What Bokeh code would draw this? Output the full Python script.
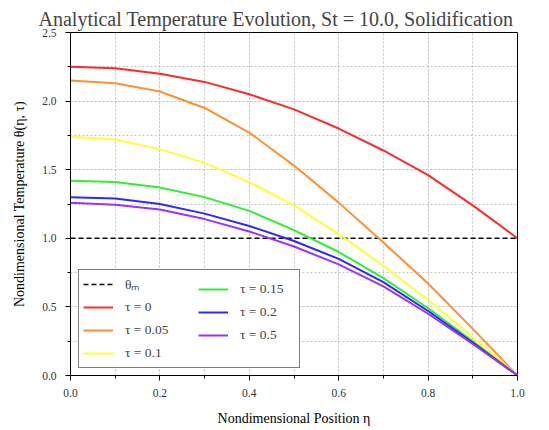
from bokeh.plotting import figure
from bokeh.models import (Legend, LegendItem, Range1d, SingleIntervalTicker,
                          NumeralTickFormatter)
from bokeh.embed import file_html
from bokeh.resources import INLINE

# ---- data ----
eta = [0.0, 0.1, 0.2, 0.3, 0.4, 0.5, 0.6, 0.7, 0.8, 0.9, 1.0]
theta_tau_0    = [2.25, 2.24, 2.20, 2.14, 2.05, 1.94, 1.80, 1.64, 1.46, 1.24, 1.00]
theta_tau_0_05 = [2.15, 2.13, 2.07, 1.95, 1.77, 1.53, 1.26, 0.97, 0.67, 0.34, 0.00]
theta_tau_0_1  = [1.74, 1.72, 1.65, 1.55, 1.41, 1.24, 1.03, 0.80, 0.55, 0.28, 0.00]
theta_tau_0_15 = [1.42, 1.41, 1.37, 1.30, 1.20, 1.06, 0.90, 0.71, 0.49, 0.25, 0.00]
theta_tau_0_2  = [1.30, 1.29, 1.25, 1.18, 1.09, 0.98, 0.85, 0.68, 0.47, 0.24, 0.00]
theta_tau_0_5  = [1.26, 1.245, 1.21, 1.14, 1.05, 0.94, 0.81, 0.65, 0.45, 0.23, 0.00]
theta_m = 1.0

series = [
    ("τ = 0", theta_tau_0, "#ff2a2a"),
    ("τ = 0.05", theta_tau_0_05, "#ff8f2f"),
    ("τ = 0.1", theta_tau_0_1, "#ffff33"),
    ("τ = 0.15", theta_tau_0_15, "#2ef02e"),
    ("τ = 0.2", theta_tau_0_2, "#2a2aff"),
    ("τ = 0.5", theta_tau_0_5, "#9933ff"),
]

FONT = "Liberation Serif"

p = figure(width=533, height=428,
           x_range=Range1d(0, 1), y_range=Range1d(0, 2.5),
           output_backend="svg", toolbar_location=None,
           min_border_left=70, min_border_right=16,
           min_border_top=32, min_border_bottom=51)

p.title.text = "Analytical Temperature Evolution, St = 10.0, Solidification"
p.title.text_font = FONT
p.title.text_font_size = "20px"
p.title.text_font_style = "normal"
p.title.align = "left"
p.title.offset = -32
p.title.standoff = 5

p.outline_line_color = "black"
p.outline_line_width = 1
p.background_fill_color = "white"

p.xaxis.ticker = SingleIntervalTicker(interval=0.2, num_minor_ticks=2)
p.yaxis.ticker = SingleIntervalTicker(interval=0.5, num_minor_ticks=2)
p.xaxis.formatter = NumeralTickFormatter(format="0.0")
p.yaxis.formatter = NumeralTickFormatter(format="0.0")

for ax in (p.xaxis, p.yaxis):
    ax.axis_line_color = "black"
    ax.major_tick_line_color = "black"
    ax.minor_tick_line_color = "black"
    ax.major_tick_in = 0
    ax.major_tick_out = 5
    ax.minor_tick_in = 0
    ax.minor_tick_out = 3
    ax.major_label_text_font = FONT
    ax.major_label_text_font_size = "11.5px"
    ax.major_label_text_color = "#333333"
    ax.axis_label_text_font = FONT
    ax.axis_label_text_font_size = "14px"
    ax.axis_label_text_font_style = "normal"
    ax.axis_label_text_color = "black"

p.xaxis.major_label_standoff = 8
p.yaxis.major_label_standoff = 9
p.xaxis.axis_label = "Nondimensional Position η"
p.yaxis.axis_label = "Nondimensional Temperature θ(η, τ)"
p.xaxis.axis_label_standoff = 11
p.yaxis.axis_label_standoff = 12

for g in (p.xgrid, p.ygrid):
    g.grid_line_color = "#c4c4c4"
    g.grid_line_dash = "2 2"
    g.grid_line_width = 1
    g.minor_grid_line_color = "#c4c4c4"
    g.minor_grid_line_dash = "2 2"
    g.minor_grid_line_width = 1

# melting line
r_m = p.line(x=[eta[0], eta[-1]], y=[theta_m, theta_m], line_color="black",
             line_width=1.4, line_dash="5 3")

renderers = []
for label, vals, color in series:
    r = p.line(x=eta, y=vals, line_color=color, line_width=2)
    renderers.append((label, r))

def style_legend(lg):
    lg.label_text_font = FONT
    lg.label_text_font_size = "13.5px"
    lg.glyph_width = 30
    lg.glyph_height = 20
    lg.label_height = 20
    lg.label_standoff = 12
    lg.spacing = 3
    lg.padding = 4
    lg.margin = 0

items_a = [LegendItem(label="θₘ", renderers=[r_m])] + \
          [LegendItem(label=l, renderers=[r]) for l, r in renderers[:3]]
items_b = [LegendItem(label=l, renderers=[r]) for l, r in renderers[3:]]

leg_a = Legend(items=items_a, location=(8, 7))
style_legend(leg_a)
leg_a.label_width = 170
leg_a.border_line_color = "black"
leg_a.border_line_width = 1.3
leg_a.background_fill_color = "white"
leg_a.background_fill_alpha = 1.0

leg_b = Legend(items=items_b, location=(128, 30))
style_legend(leg_b)
leg_b.border_line_color = None
leg_b.background_fill_alpha = 0.0

p.add_layout(leg_a, "center")
p.add_layout(leg_b, "center")

open("out.html", "w").write(file_html(p, INLINE))
